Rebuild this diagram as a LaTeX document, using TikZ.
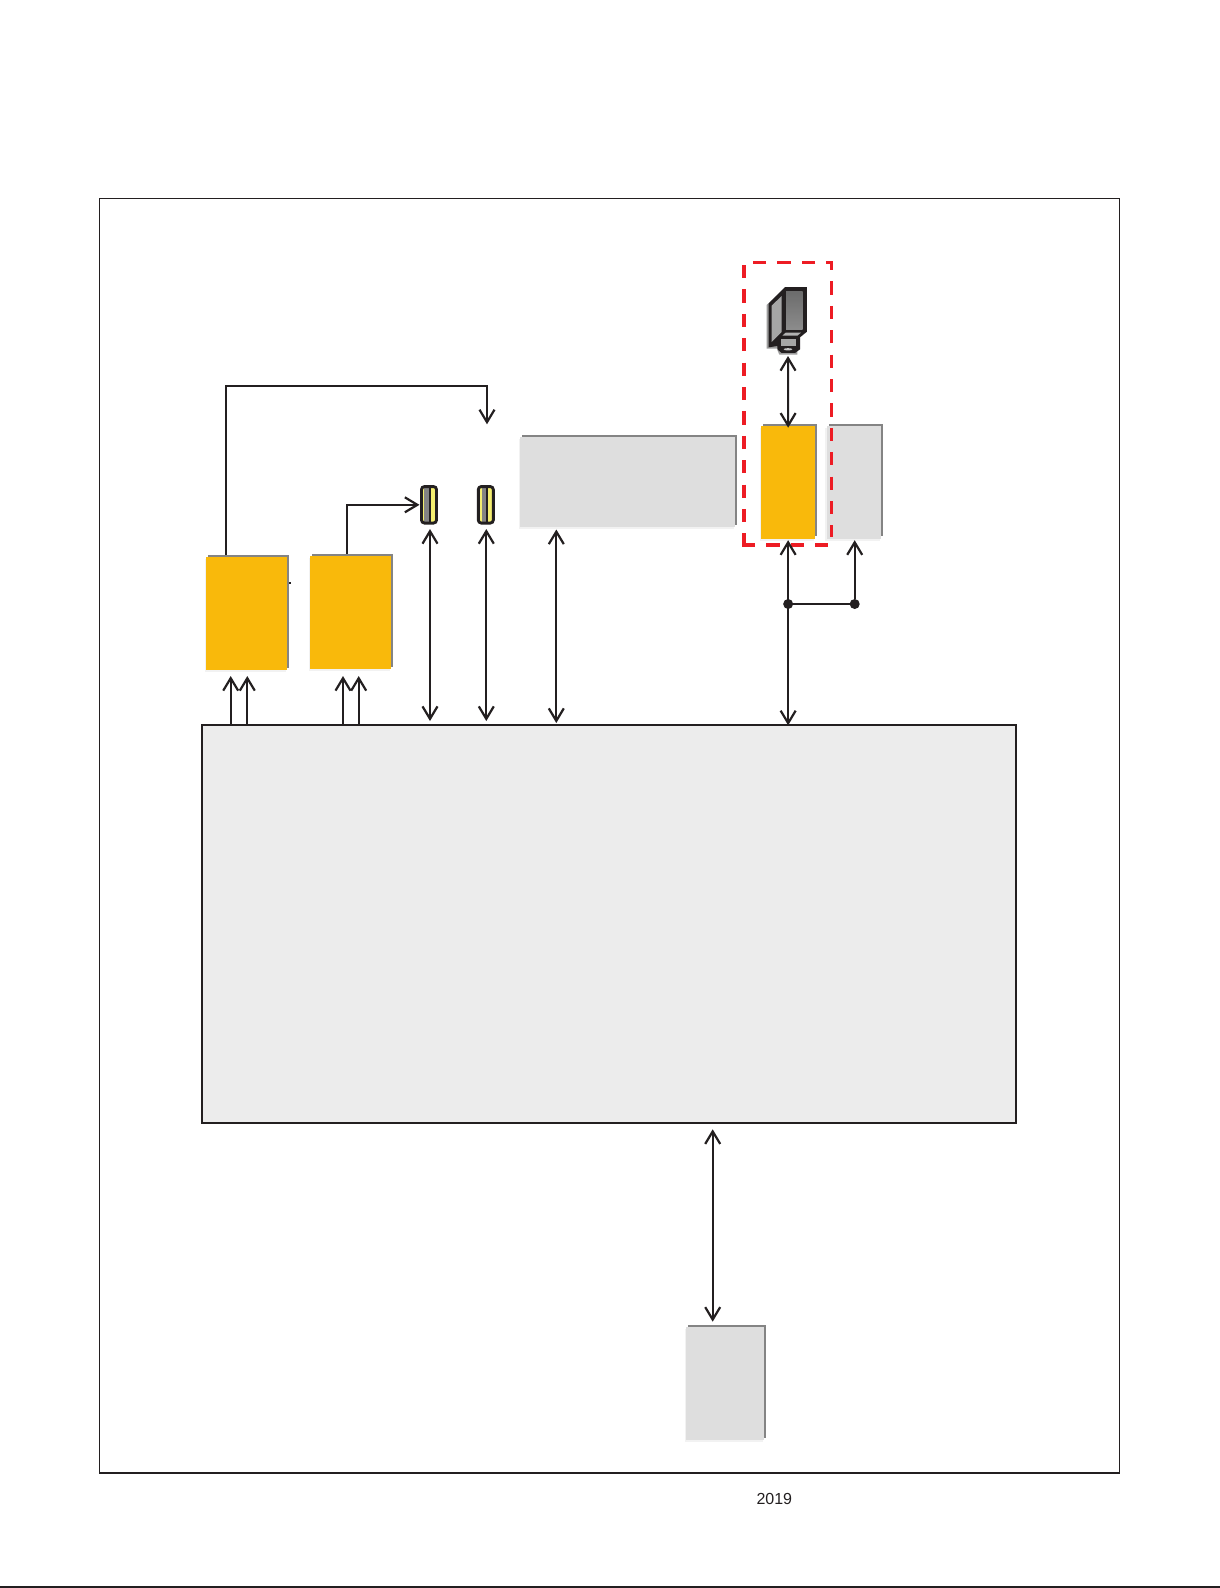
\documentclass[tikz,border=0pt]{standalone}
\usepackage{fontspec}
\setmainfont{Liberation Sans}
\usetikzlibrary{arrows.meta,calc}
\definecolor{ink}{HTML}{231F20}
\definecolor{orangebox}{HTML}{F9B90B}
\definecolor{greybox}{HTML}{DEDEDE}
\definecolor{mainbox}{HTML}{ECECEC}
\definecolor{edgegrey}{HTML}{848484}
\definecolor{halo}{HTML}{F2F2F2}
\definecolor{redline}{HTML}{ED1C24}
\definecolor{usbyellow}{HTML}{F4EE70}
\tikzset{
  wire/.style={draw=ink,line width=2pt},
  uni/.style={wire,-{Straight Barb[length=12.5pt,width=15pt,line width=2.2pt]}},
  bi/.style={wire,{Straight Barb[length=12.5pt,width=15pt,line width=2.2pt]}-{Straight Barb[length=12.5pt,width=15pt,line width=2.2pt]}},
  plainbox/.style={rectangle,inner sep=0pt,outer sep=0pt,draw=none},
  dot/.style={circle,fill=ink,inner sep=0pt,minimum size=10pt},
  usbport/.style={rectangle,rounded corners=3pt,fill=usbyellow,inner sep=0pt,outer sep=0pt,minimum width=15pt,minimum height=36.5pt},
  redash/.style={redline,line width=3.6pt,line join=miter,dash pattern=on 13.2pt off 11.2pt},
}
% name, x0, y0, x1, y1, fill colour
\newcommand{\shadedbox}[6]{%
  \fill[halo] (#2-1.5,#3+2) rectangle (#4-1,#5+2);
  \fill[edgegrey] (#2+2,#3-1.8) rectangle (#4+2,#5-2.5);
  \node[plainbox,fill=#6,minimum width={(#4-#2)*1pt},minimum height={(#5-#3)*1pt}] (#1) at ({(#2+#4)/2},{(#3+#5)/2}) {};
}
\begin{document}
\begin{tikzpicture}[x=1pt,y=-1pt]
\useasboundingbox (0,0) rectangle (1220,1588);
\fill[white] (0,0) rectangle (1220,1588);
% page rule and frame
\draw[ink,line width=1.1pt] (0,1587) -- (1220,1587);
\draw[ink,line width=1.1pt] (99.5,198.5) rectangle (1119.7,1473);
% main block
\node[plainbox,draw=ink,line width=2pt,fill=mainbox,minimum width=814pt,minimum height=397.4pt] (main) at (609,924) {};
% boxes
\shadedbox{ampA}{206}{557}{287}{670}{orangebox}
\shadedbox{ampB}{310}{555.7}{391.3}{669}{orangebox}
\shadedbox{wide}{520}{436.5}{735}{527}{greybox}
\shadedbox{camboard}{761}{426}{815.3}{538.7}{orangebox}
\shadedbox{side}{826.5}{426}{880.5}{538.7}{greybox}
\shadedbox{lower}{686}{1327}{764}{1440}{greybox}
\fill[ink] (289,582) rectangle (291,583.5);
% USB ports
\node[usbport] (usbA) at (429,504.8) {};
\fill[edgegrey] (424,488) rectangle (428.5,522);
\fill[ink] (428.5,488) rectangle (431,522);
\node[usbport] (usbB) at (485.8,504.8) {};
\fill[edgegrey] (481.5,488) rectangle (486,522);
\fill[ink] (486,488) rectangle (487.8,522);
\draw[ink,line width=2.9pt,rounded corners=3pt] (usbA.south west) rectangle (usbA.north east);
\draw[ink,line width=2.9pt,rounded corners=3pt] (usbB.south west) rectangle (usbB.north east);
% red outline
\draw[redash] (826,262.3) -- (831.3,262.3) -- (831.3,536.7);
\draw[redash] (815,262.3) -- (743,262.3);
\draw[redash] (744,265) -- (744,547);
\draw[redash] (742,545) -- (828,545);
% camera
\node[plainbox,minimum width=40pt,minimum height=66pt] (cam) at (788,321) {};
\begin{scope}[shift={(720,250)},x=0.3333pt,y=-0.3333pt]
  \fill[edgegrey!80] (140,165) -- (190,118) -- (190,296) -- (172,300) -- (178,314) -- (232,314) -- (232,296) -- (140,296) -- cycle;
  \fill[ink] (146,160) -- (195,111) -- (261,111) -- (261,245) -- (240,262) -- (240,298) -- (225,309) -- (185,309) -- (172,298) -- (172,288) -- (146,292) -- cycle;
  \shade[top color=gray!85!black,bottom color=gray!90!white] (198,125) rectangle (248,240);
  \fill[gray!70] (155,167) -- (185,138) -- (185,246) -- (155,276) -- cycle;
  \fill[gray!60] (197,248) -- (243,248) -- (232,257) -- (187,257) -- cycle;
  \fill[gray!70] (184,268) rectangle (228,287);
  \fill[gray!45] (204,298) ellipse (13 and 3.5);
\end{scope}
% connectors
\coordinate (feedCorner) at (487,385.7);
\coordinate (feedEnd) at (487,424.3);
\draw[uni,line join=miter] ([xshift=-20.8pt,yshift=2pt]ampA.north) |- (feedCorner) -- (feedEnd);
\draw[uni,line join=miter,shorten >=2pt] ([xshift=-3.35pt,yshift=2pt]ampB.north) |- (usbA.west);
\draw[uni] ([xshift=-15.8pt]ampA.south |- main.north) -- ([xshift=-15.8pt,yshift=-6pt]ampA.south);
\draw[uni] ([xshift=0.8pt]ampA.south |- main.north) -- ([xshift=0.8pt,yshift=-6pt]ampA.south);
\draw[uni] ([xshift=-7.65pt]ampB.south |- main.north) -- ([xshift=-7.65pt,yshift=-7pt]ampB.south);
\draw[uni] ([xshift=8.05pt]ampB.south |- main.north) -- ([xshift=8.05pt,yshift=-7pt]ampB.south);
\draw[bi] ([xshift=1pt,yshift=-6pt]usbA.south) -- ([xshift=1pt,yshift=4.3pt]usbA.south |- main.north);
\draw[bi] ([xshift=0.5pt,yshift=-6pt]usbB.south) -- ([xshift=0.5pt,yshift=4.3pt]usbB.south |- main.north);
\draw[bi] ([xshift=-71.2pt,yshift=-2.5pt]wide.south) -- ([xshift=-71.2pt,yshift=2.3pt]wide.south |- main.north);
\draw[bi] ([yshift=-2pt]cam.south) -- ([yshift=-1.7pt]camboard.north);
\node[dot] (dotA) at (788.15,604) {};
\node[dot] (dotB) at (854.7,604) {};
\draw[bi] ([yshift=-1.5pt]camboard.south) -- (camboard.south |- main.north);
\draw[wire] (dotA) -- (dotB);
\draw[uni,shorten >=1.5pt] (dotB) -- (dotB |- side.south);
\draw[bi] ([xshift=-12.3pt,yshift=-6.6pt]lower.north |- main.south) -- ([xshift=-12.3pt,yshift=5.3pt]lower.north);
% page number
\node[inner sep=0pt,text=ink,font=\fontsize{16}{18}\selectfont] (year) at (774.3,1499) {2019};
\end{tikzpicture}
\end{document}
